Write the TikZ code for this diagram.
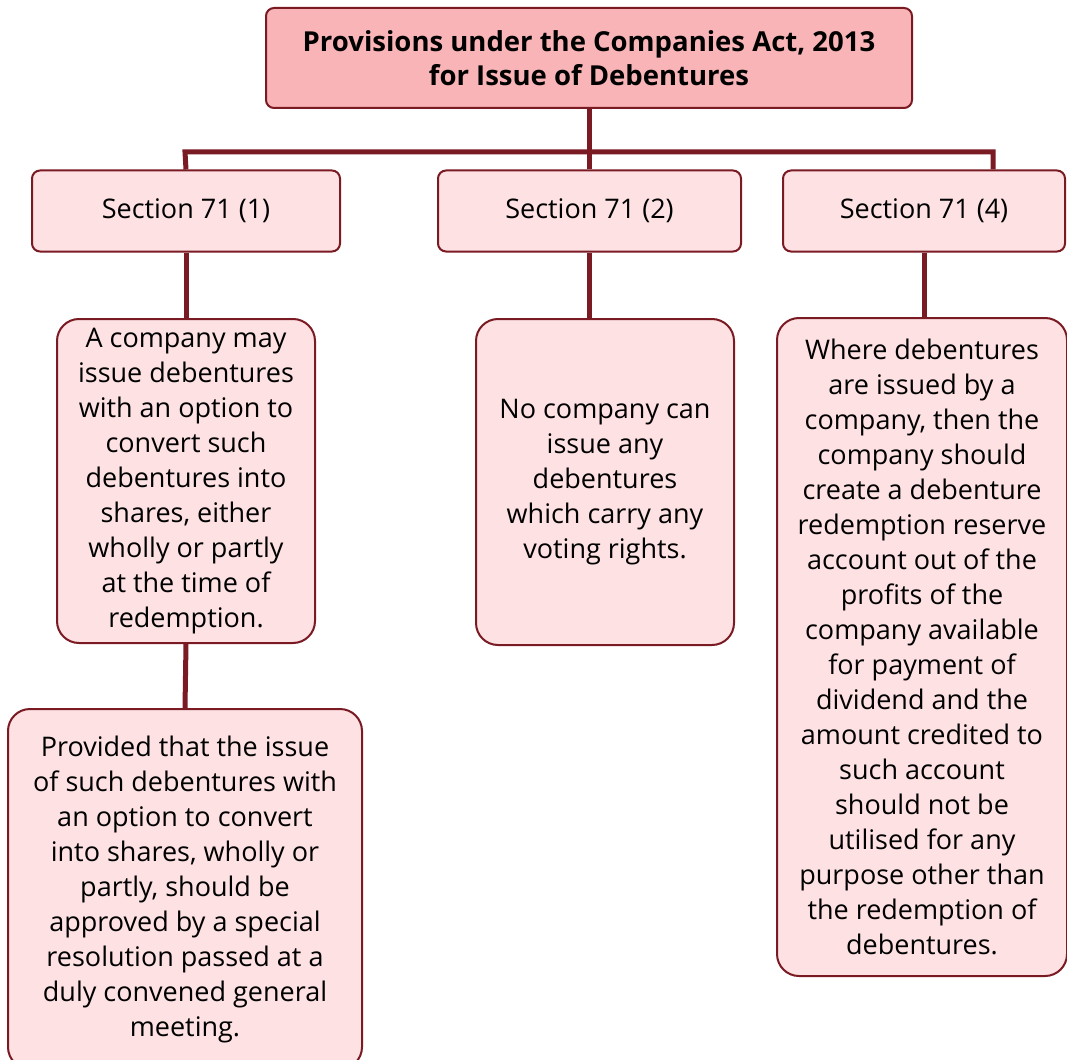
\documentclass[tikz,border=0pt]{standalone}
\usepackage{fontspec}
\setmainfont{Open Sans}
\definecolor{darkred}{HTML}{7A1A23}
\definecolor{rosefill}{HTML}{F8B4B6}
\definecolor{palefill}{HTML}{FDE1E3}
\begin{document}
\begin{tikzpicture}[x=1pt,y=1pt]
	\tikzstyle{box} = [draw=darkred,line width=2pt,fill=palefill,rounded corners=8pt,align=center,font=\fontsize{27}{35}\selectfont,inner sep=0pt]
	\tikzstyle{textbox} = [box,rounded corners=22pt]
	\tikzstyle{link} = [darkred,line width=5pt]
	\useasboundingbox (0,0) rectangle (1067,-1059);
		
		\node[box,fill=rosefill,font=\bfseries\fontsize{27.5}{34}\selectfont,minimum width=646pt,minimum height=100pt](top) at (589,-58){Provisions under the Companies Act, 2013\\for Issue of Debentures};
		\node[box,minimum width=308pt,minimum height=81pt](s1) at (186,-211){Section 71 (1)};
		\node[box,minimum width=303pt,minimum height=81pt](s2) at (589.5,-211){Section 71 (2)};
		\node[box,minimum width=282pt,minimum height=81pt](s3) at (924,-211){Section 71 (4)};
		\node[textbox,minimum width=258pt,minimum height=324pt](d1) at (186,-481){A company may\\issue debentures\\with an option to\\convert such\\debentures into\\shares, either\\wholly or partly\\at the time of\\redemption.};
		\node[textbox,minimum width=258pt,minimum height=326pt](d2) at (605,-482){No company can\\issue any\\debentures\\which carry any\\voting rights.};
		\node[textbox,minimum width=290pt,minimum height=658pt](d3) at (922,-647){Where debentures\\are issued by a\\company, then the\\company should\\create a debenture\\redemption reserve\\account out of the\\profits of the\\company available\\for payment of\\dividend and the\\amount credited to\\such account\\should not be\\utilised for any\\purpose other than\\the redemption of\\debentures.};
		\node[textbox,minimum width=354pt,minimum height=360pt](d4) at (185,-889){Provided that the issue\\of such debentures with\\an option to convert\\into shares, wholly or\\partly, should be\\approved by a special\\resolution passed at a\\duly convened general\\meeting.};
		
		\coordinate (bl) at (185,-152);
		\coordinate (br) at (993,-152);
		\draw[link](top.south) -- (top.south |- bl);
		\draw[link](s1.north) -- (bl) -- (br) -- (br |- s3.north);
		\draw[link](s2.north) -- (s2.north |- bl);
		\draw[link](s1.south) -- (d1.north);
		\draw[link](s2.south) -- (s2.south |- d2.north);
		\draw[link](s3.south) -- (s3.south |- d3.north);
		\draw[link](d1.south) -- (d4.north);
\end{tikzpicture}
\end{document}
